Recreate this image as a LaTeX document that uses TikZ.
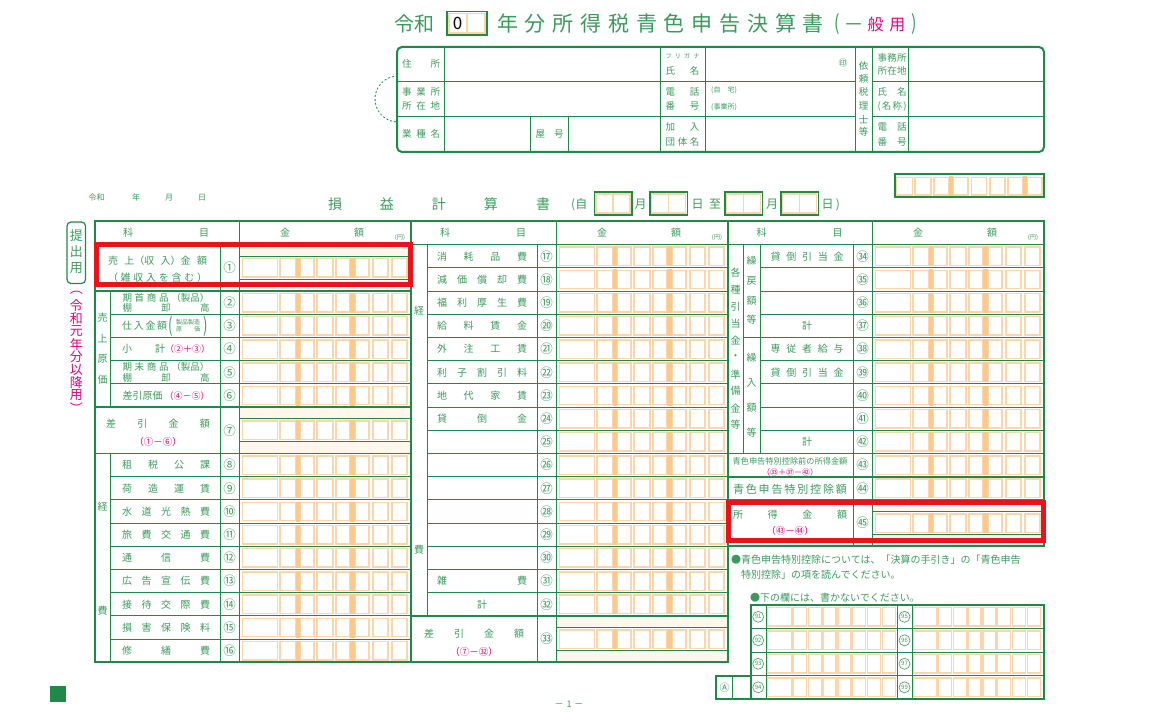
\documentclass[tikz,border=0pt]{standalone}
\usepackage{fontspec}
\setmainfont{Noto Sans CJK JP}
\usetikzlibrary{positioning,calc}

\definecolor{fgreen}{HTML}{1F8A47}
\definecolor{tgreen}{HTML}{3A9A5C}
\definecolor{orng}{HTML}{FCD6AA}
\definecolor{obar}{HTML}{FCC88C}
\definecolor{cream}{HTML}{FFF7EB}
\definecolor{mag}{HTML}{E4007F}
\definecolor{redbox}{HTML}{E8141B}

\def\ttop{221.5}
\def\rowh{23.2}
\newcommand{\spreadto}[2]{\makebox[#1][s]{#2}}

\tikzset{
  frame/.style={draw=fgreen,line width=2pt},
  rule/.style={draw=fgreen,line width=1pt},
  thick rule/.style={draw=fgreen,line width=1.6pt},
  cell/.style={draw=orng,line width=1.5pt},
  lbl/.style={text=tgreen,inner sep=0pt,font=\fontsize{10}{12}\selectfont},
  tiny/.style={lbl,font=\fontsize{6}{7}\selectfont},
  cnum/.style={lbl,font=\fontsize{12.5}{13}\selectfont},
  calc/.style={text=mag,inner sep=0pt,font=\fontsize{9.5}{10}\selectfont},
  hot/.style={draw=redbox,line width=5pt},
  bnum/.style={circle,draw=tgreen,line width=.6pt,minimum size=11pt,inner sep=0pt,text=tgreen,font=\fontsize{6}{6}\selectfont}
}

% amount cells: #1 left of column, #2 top of row
\newcommand{\amt}[2]{%
  \foreach \a/\b in {3.5/38.5,41/57,61/75,78/94,97/111,116/130,134/149,153/168}
    \draw[cell] ({#1+\a},{#2+2.4}) rectangle ({#1+\b},{#2+20.8});
  \fill[obar] ({#1+57},{#2+1.6}) rectangle ({#1+61},{#2+21.6});
  \fill[obar] ({#1+111},{#2+1.6}) rectangle ({#1+116},{#2+21.6});
}
% double height amount row
\newcommand{\amtt}[2]{%
  \fill[cream] ({#1},{#2}) rectangle ({#1+171.5},{#2+2*\rowh});
  \fill[white] ({#1},{#2+11.6}) rectangle ({#1+171.5},{#2+11.6+\rowh});
  \draw[rule] ({#1},{#2+11.6}) -- ({#1+171.5},{#2+11.6});
  \draw[rule] ({#1},{#2+11.6+\rowh}) -- ({#1+171.5},{#2+11.6+\rowh});
  \amt{#1}{#2+11.6}
}

\begin{document}
\begin{tikzpicture}[x=1pt,y=-1pt]
\useasboundingbox (0,0) rectangle (1152,714);

% title
\node[lbl,font=\fontsize{20}{20}\selectfont] (ttla) at (414.5,24) {令和};
\draw[fgreen,line width=1.2pt] (447,11.5) rectangle (487,35);
\draw[cell] (449,13.5) rectangle (467,33);
\draw[cell] (467,13.5) rectangle (485,33);
\node[inner sep=0pt,font=\fontsize{17}{17}\selectfont] (yr) at (457.5,23.5) {0};
\node[lbl,font=\fontsize{21}{21}\selectfont] (ttlb) at (660.5,24) {\spreadto{327pt}{年\hfill 分\hfill 所\hfill 得\hfill 税\hfill 青\hfill 色\hfill 申\hfill 告\hfill 決\hfill 算\hfill 書}};
\node[lbl,font=\fontsize{16}{16}\selectfont] (ttlc) at (875.5,24) {\spreadto{82pt}{\scalebox{1}[1.3]{(}\hfill 一\hfill\textcolor{mag}{般}\hfill\textcolor{mag}{用}\hfill\scalebox{1}[1.3]{)}}};

% head box
\draw[frame,rounded corners=5pt] (397,47) rectangle (1044,152);
\foreach \y in {81.5,116.5} {
  \draw[rule] (397,\y) -- (855,\y);
  \draw[rule] (872,\y) -- (1044,\y);
}
\foreach \x in {444,660,705.5,855,872,908} \draw[rule] (\x,47) -- (\x,152);
\foreach \x in {530.5,568.5} \draw[rule] (\x,116.5) -- (\x,152);
\draw[fgreen,line width=.8pt,dash pattern=on 2pt off 2pt] (398,99) ++(95:23) arc (95:265:23);

\node[lbl,font=\fontsize{9.5}{14}\selectfont] (jusho) at (421,63.5) {\spreadto{38pt}{住\hfill 所}};
\node[lbl,font=\fontsize{9.5}{14}\selectfont,align=center] (jgsho) at (421,99) {\spreadto{38pt}{事\hfill 業\hfill 所}\\\spreadto{38pt}{所\hfill 在\hfill 地}};
\node[lbl,font=\fontsize{9.5}{14}\selectfont] (gyoshu) at (421,134) {\spreadto{38pt}{業\hfill 種\hfill 名}};
\node[lbl,font=\fontsize{9.5}{14}\selectfont] (yago) at (549.5,134) {\spreadto{28pt}{屋\hfill 号}};
\node[tiny] (furi) at (682.5,56) {\spreadto{34pt}{フ\hfill リ\hfill ガ\hfill ナ}};
\node[lbl,font=\fontsize{9.5}{14}\selectfont] (shimei) at (682.5,70.5) {\spreadto{34pt}{氏\hfill 名}};
\node[lbl,font=\fontsize{9}{9}\selectfont] (inkan) at (843,63) {㊞};
\node[lbl,font=\fontsize{9.5}{14}\selectfont,align=center] (denwa) at (682.5,99) {\spreadto{34pt}{電\hfill 話}\\\spreadto{34pt}{番\hfill 号}};
\node[lbl,font=\fontsize{7}{7}\selectfont,anchor=west] (jitaku) at (711,90.5) {(自\hspace{7pt}宅)};
\node[lbl,font=\fontsize{7}{7}\selectfont,anchor=west] (jgshob) at (711,107.5) {(事業所)};
\node[lbl,font=\fontsize{9.5}{15}\selectfont,align=center] (kanyu) at (682.5,134.5) {\spreadto{34pt}{加\hfill 入}\\\spreadto{34pt}{団\hfill 体\hfill 名}};
\foreach \chr/\y in {依/66,頼/79,税/92,理/106,士/119.5,等/132}
  \node[lbl,font=\fontsize{9.5}{10}\selectfont] (zei\chr) at (863.5,\y) {\chr};
\node[lbl,font=\fontsize{9.5}{13}\selectfont,align=center] (jmsho) at (892,64.5) {\spreadto{29pt}{事\hfill 務\hfill 所}\\\spreadto{29pt}{所\hfill 在\hfill 地}};
\node[lbl,font=\fontsize{9.5}{14}\selectfont,align=center] (meisho) at (892,99) {\spreadto{29pt}{氏\hfill 名}\\\spreadto{29pt}{(\hfill 名\hfill 称\hfill )}};
\node[lbl,font=\fontsize{9.5}{15}\selectfont,align=center] (zdenwa) at (892,134.5) {\spreadto{29pt}{電\hfill 話}\\\spreadto{29pt}{番\hfill 号}};

% date line
\node[lbl,font=\fontsize{8}{8}\selectfont] (dreiwa) at (96.7,197.5) {令和};
\node[lbl,font=\fontsize{8}{8}\selectfont] (dnen) at (136,197.5) {年};
\node[lbl,font=\fontsize{8}{8}\selectfont] (dtsuki) at (169,197.5) {月};
\node[lbl,font=\fontsize{8}{8}\selectfont] (dhi) at (202,197.5) {日};
\node[lbl,font=\fontsize{14}{14}\selectfont] (sonek) at (439,204.5) {\spreadto{222pt}{損\hfill 益\hfill 計\hfill 算\hfill 書}};
\node[lbl,font=\fontsize{12}{12}\selectfont,anchor=west] (jiyori) at (571,204.5) {(自};
\foreach \x in {594.5,650,725,781} {
  \draw[cell] ({\x+1.5},194) rectangle ({\x+18.5},213);
  \draw[cell] ({\x+18.5},194) rectangle ({\x+35.5},213);
  \draw[fgreen,line width=1.2pt] (\x,192) rectangle ({\x+37.5},215);
}
\node[lbl,font=\fontsize{12}{12}\selectfont] (pgt) at (640.5,204.5) {月};
\node[lbl,font=\fontsize{12}{12}\selectfont] (pdh) at (697.5,204.5) {日};
\node[lbl,font=\fontsize{12}{12}\selectfont] (pit) at (715,204.5) {至};
\node[lbl,font=\fontsize{12}{12}\selectfont] (pgt2) at (772,204.5) {月};
\node[lbl,font=\fontsize{12}{12}\selectfont] (pdh2) at (827.5,204.5) {日};
\node[lbl,font=\fontsize{12}{12}\selectfont] (pclose) at (838,204.5) {)};

% serial box top right
\foreach \a/\b in {896.7/912.7,915/931,934/949,953/968,971.7/986.7,990/1005,1008/1023,1027/1042}
  \draw[cell] (\a,177.5) rectangle (\b,195);
\fill[obar] (949,176.5) rectangle (953,196);
\fill[obar] (1023,176.5) rectangle (1027,196);
\draw[frame] (895,174.5) rectangle (1044,197.5);

% submit tag
\draw[fgreen,line width=1.2pt,rounded corners=4pt] (67,222) rectangle (85.5,283.5);
\foreach \chr/\y in {提/236,出/252,用/268.5}
  \node[lbl,font=\fontsize{13}{13}\selectfont] (tei\chr) at (76.3,\y) {\chr};
\foreach \chr [count=\i] in {︵,令,和,元,年,分,以,降,用,︶}
  \node[text=mag,inner sep=0pt,font=\fontsize{13}{13}\selectfont] (iko\i) at (76.3,{280.2+\i*12.8}) {\chr};

% amount cells
\foreach \k in {3,4,5,6,7,10,11,12,13,14,15,16,17,18} {\amt{239}{\ttop+\k*\rowh}}
\amtt{239}{\ttop+\rowh}
\amtt{239}{\ttop+8*\rowh}
\foreach \k in {1,...,16} {\amt{556}{\ttop+\k*\rowh}}
\amtt{556}{\ttop+17*\rowh}
\foreach \k in {1,...,11} {\amt{872}{\ttop+\k*\rowh}}
\amtt{872}{\ttop+12*\rowh}

% grid
\draw[rule] (95,{\ttop+\rowh}) -- (1044,{\ttop+\rowh});
\foreach \k in {3,8,10} \draw[thick rule] (95,{\ttop+\k*\rowh}) -- (410.5,{\ttop+\k*\rowh});
\foreach \k in {4,5,6,7,11,12,13,14,15,16,17,18} \draw[rule] (110.5,{\ttop+\k*\rowh}) -- (410.5,{\ttop+\k*\rowh});
\draw[rule] (110.5,{\ttop+3*\rowh}) -- (110.5,{\ttop+8*\rowh});
\draw[rule] (110.5,{\ttop+10*\rowh}) -- (110.5,{\ttop+19*\rowh});
\draw[rule] (220.5,{\ttop+\rowh}) -- (220.5,{\ttop+19*\rowh});
\draw[rule] (239,\ttop) -- (239,{\ttop+19*\rowh});
\foreach \k in {2,...,16} \draw[rule] (427,{\ttop+\k*\rowh}) -- (727.5,{\ttop+\k*\rowh});
\draw[thick rule] (410.5,{\ttop+17*\rowh}) -- (727.5,{\ttop+17*\rowh});
\draw[rule] (427,{\ttop+\rowh}) -- (427,{\ttop+17*\rowh});
\draw[rule] (537,{\ttop+\rowh}) -- (537,{\ttop+19*\rowh});
\draw[rule] (556,\ttop) -- (556,{\ttop+19*\rowh});
\foreach \k in {2,3,4,6,7,8,9} \draw[rule] (760,{\ttop+\k*\rowh}) -- (1044,{\ttop+\k*\rowh});
\draw[thick rule] (743,{\ttop+5*\rowh}) -- (1044,{\ttop+5*\rowh});
\foreach \k in {10,11,12} \draw[thick rule] (727.5,{\ttop+\k*\rowh}) -- (1044,{\ttop+\k*\rowh});
\draw[rule] (743,{\ttop+\rowh}) -- (743,{\ttop+10*\rowh});
\draw[rule] (760,{\ttop+\rowh}) -- (760,{\ttop+10*\rowh});
\draw[rule] (853,{\ttop+\rowh}) -- (853,{\ttop+14*\rowh});
\draw[rule] (872,\ttop) -- (872,{\ttop+14*\rowh});
\draw[frame] (95,\ttop) rectangle (727.5,{\ttop+19*\rowh});
\draw[frame] (727.5,\ttop) rectangle (1044,{\ttop+14*\rowh});
\draw[frame] (410.5,\ttop) -- (410.5,{\ttop+19*\rowh});

% headers
\foreach \x/\y in {166/239,483/556,799.5/872} {
  \node[lbl] (hk\x) at (\x,233) {\spreadto{86pt}{科\hfill 目}};
  \node[lbl] (hg\x) at ({\y+83},233) {\spreadto{84pt}{金\hfill 額}};
  \node[lbl,font=\fontsize{6}{6}\selectfont] (hy\x) at ({\y+161},237.5) {(円)};
}

% circled numbers
\node[cnum] (c1) at (229.7,{\ttop+2*\rowh}) {①};
\foreach \n [count=\i from 3] in {②,③,④,⑤,⑥}
  \node[cnum] (c\i) at (229.7,{\ttop+(\i+.5)*\rowh}) {\n};
\node[cnum] (c7) at (229.7,{\ttop+9*\rowh}) {⑦};
\foreach \n [count=\i from 10] in {⑧,⑨,⑩,⑪,⑫,⑬,⑭,⑮,⑯}
  \node[cnum] (cc\i) at (229.7,{\ttop+(\i+.5)*\rowh}) {\n};
\foreach \n [count=\i from 1] in {⑰,⑱,⑲,⑳,㉑,㉒,㉓,㉔,㉕,㉖,㉗,㉘,㉙,㉚,㉛,㉜}
  \node[cnum] (cm\i) at (546.5,{\ttop+(\i+.5)*\rowh}) {\n};
\node[cnum] (c33) at (546.5,{\ttop+18*\rowh}) {㉝};
\foreach \n [count=\i from 1] in {㉞,㉟,㊱,㊲,㊳,㊴,㊵,㊶,㊷,㊸,㊹}
  \node[cnum] (cr\i) at (862.5,{\ttop+(\i+.5)*\rowh}) {\n};
\node[cnum] (c45) at (862.5,{\ttop+13*\rowh}) {㊺};

% left items
\node[lbl,font=\fontsize{10}{17}\selectfont,align=center] (uriage) at (157.5,269.4) {\spreadto{99pt}{売\hfill 上（収\hfill 入）金\hfill 額}\\\spreadto{99pt}{（\hfill 雑\hfill 収\hfill 入\hfill を\hfill 含\hfill む\hfill ）}};
\foreach \chr [count=\i] in {売,上,原,価}
  \node[lbl] (gen\i) at (102.7,{297.3+\i*20.7}) {\chr};
\node[lbl,font=\fontsize{9.5}{10.5}\selectfont,align=center] (kisyu) at (166,{\ttop+3.5*\rowh}) {\spreadto{87pt}{期\hfill 首\hfill 商\hfill 品\hfill （製品）}\\\spreadto{87pt}{棚\hfill 卸\hfill 高}};
\node[lbl,anchor=west] (shiire) at (122,{\ttop+4.5*\rowh}) {\spreadto{45pt}{仕\hfill 入\hfill 金\hfill 額}};
\node[lbl,font=\fontsize{13}{13}\selectfont] (shiirel) at (170.5,{\ttop+4.5*\rowh}) {\scalebox{1}[1.55]{(}};
\node[lbl,font=\fontsize{6}{7}\selectfont,align=center] (shiirem) at (188,{\ttop+4.5*\rowh}) {製品製造\\\spreadto{24pt}{原\hfill 価}};
\node[lbl,font=\fontsize{13}{13}\selectfont] (shiirer) at (205.5,{\ttop+4.5*\rowh}) {\scalebox{1}[1.55]{)}};
\node[lbl] (shokei) at (166,{\ttop+5.5*\rowh}) {\spreadto{88pt}{小\hspace{23pt}計\hfill{\color{mag}\fontsize{9}{10}\selectfont （②＋③）}}};
\node[lbl,font=\fontsize{9.5}{10.5}\selectfont,align=center] (kimatsu) at (166,{\ttop+6.5*\rowh}) {\spreadto{87pt}{期\hfill 末\hfill 商\hfill 品\hfill （製品）}\\\spreadto{87pt}{棚\hfill 卸\hfill 高}};
\node[lbl] (genka) at (166,{\ttop+7.5*\rowh}) {\spreadto{87pt}{差引原価\hfill{\color{mag}\fontsize{9}{10}\selectfont （④－⑤）}}};
\node[lbl] (sahiki) at (158,424) {\spreadto{104pt}{差\hfill 引\hfill 金\hfill 額}};
\node[calc] (sahikif) at (158,442) {（①－⑥）};
\node[lbl] (kei1) at (102.7,506.7) {経};
\node[lbl] (hi1) at (102.7,610.7) {費};
\foreach \k/\txt in {10/{租\hfill 税\hfill 公\hfill 課},11/{荷\hfill 造\hfill 運\hfill 賃},12/{水\hfill 道\hfill 光\hfill 熱\hfill 費},13/{旅\hfill 費\hfill 交\hfill 通\hfill 費},14/{通\hfill 信\hfill 費},15/{広\hfill 告\hfill 宣\hfill 伝\hfill 費},16/{接\hfill 待\hfill 交\hfill 際\hfill 費},17/{損\hfill 害\hfill 保\hfill 険\hfill 料},18/{修\hfill 繕\hfill 費}}
  \node[lbl] (la\k) at (166,{\ttop+(\k+.5)*\rowh}) {\spreadto{88pt}{\txt}};

% middle items
\node[lbl] (kei2) at (419,311) {経};
\node[lbl] (hi2) at (419,550) {費};
\foreach \k/\txt in {1/{消\hfill 耗\hfill 品\hfill 費},2/{減\hfill 価\hfill 償\hfill 却\hfill 費},3/{福\hfill 利\hfill 厚\hfill 生\hfill 費},4/{給\hfill 料\hfill 賃\hfill 金},5/{外\hfill 注\hfill 工\hfill 賃},6/{利\hfill 子\hfill 割\hfill 引\hfill 料},7/{地\hfill 代\hfill 家\hfill 賃},8/{貸\hfill 倒\hfill 金},15/{雑\hfill 費}}
  \node[lbl] (lm\k) at (482,{\ttop+(\k+.5)*\rowh}) {\spreadto{90pt}{\txt}};
\node[lbl] (kei) at (482,{\ttop+16.5*\rowh}) {計};
\node[lbl] (sahikib) at (474,634) {\spreadto{100pt}{差\hfill 引\hfill 金\hfill 額}};
\node[calc] (sahikibf) at (474,651.5) {（⑦－㉜）};

% right items
\foreach \chr [count=\i] in {各,種,引,当,金,・,準,備,金,等}
  \node[lbl] (hik\i) at (735.5,{256+\i*16.9}) {\chr};
\foreach \chr [count=\i] in {繰,戻,額,等}
  \node[lbl] (kmd\i) at (751.7,{241.3+\i*19.7}) {\chr};
\foreach \chr [count=\i] in {繰,入,額,等}
  \node[lbl] (kir\i) at (751.7,{333+\i*25}) {\chr};
\node[lbl] (kashi1) at (807,{\ttop+1.5*\rowh}) {\spreadto{73pt}{貸\hfill 倒\hfill 引\hfill 当\hfill 金}};
\node[lbl] (kei3) at (807,{\ttop+4.5*\rowh}) {計};
\node[lbl] (senju) at (807,{\ttop+5.5*\rowh}) {\spreadto{73pt}{専\hfill 従\hfill 者\hfill 給\hfill 与}};
\node[lbl] (kashi2) at (807,{\ttop+6.5*\rowh}) {\spreadto{73pt}{貸\hfill 倒\hfill 引\hfill 当\hfill 金}};
\node[lbl] (kei4) at (807,{\ttop+9.5*\rowh}) {計};
\node[lbl,font=\fontsize{8.2}{9}\selectfont] (maekin) at (790,461.5) {青色申告特別控除前の所得金額};
\node[calc,font=\fontsize{8}{8}\selectfont] (maekinf) at (790,472) {（㉝＋㊲－㊷）};
\node[lbl,font=\fontsize{11}{12}\selectfont] (kojo) at (790,489) {\spreadto{114pt}{青\hfill 色\hfill 申\hfill 告\hfill 特\hfill 別\hfill 控\hfill 除\hfill 額}};
\node[lbl] (shotoku) at (790,515) {\spreadto{114pt}{所\hfill 得\hfill 金\hfill 額}};
\node[calc] (shotokuf) at (790,530.5) {（㊸－㊹）};

% notes
\node[lbl,anchor=west] (nt1) at (731,560) {●青色申告特別控除については、「決算の手引き」の「青色申告};
\node[lbl,anchor=west] (nt2) at (741,574.5) {特別控除」の項を読んでください。};
\node[lbl,anchor=west] (nt3) at (750,598) {●下の欄には、書かないでください。};

% office box
\foreach \y in {605,628.5,652,675.5} {
  \draw[cell] (767.5,{\y+2.5}) rectangle (792,{\y+21});
  \foreach \j in {0,...,6} \draw[cell] ({793.5+\j*14.8},{\y+2.5}) rectangle ({806.5+\j*14.8},{\y+21});
  \draw[cell] (913.5,{\y+2.5}) rectangle (937,{\y+21});
  \foreach \j in {0,...,6} \draw[cell] ({938.5+\j*14.8},{\y+2.5}) rectangle ({951.5+\j*14.8},{\y+21});
}
\draw[frame] (750.5,605) rectangle (1044,699);
\foreach \y in {628.5,652,675.5} \draw[rule] (750.5,\y) -- (1044,\y);
\foreach \x in {766,897,912} \draw[rule] (\x,605) -- (\x,699);
\draw[frame] (716,675.5) rectangle (750.5,699);
\draw[rule] (732.5,675.5) -- (732.5,699);
\node[lbl,font=\fontsize{10}{10}\selectfont] (ca) at (724.5,687.5) {Ⓐ};
\foreach \n [count=\i from 0] in {91,92,93,94}
  \node[bnum] (bl\n) at (758.2,{616.8+\i*23.5}) {\n};
\foreach \n [count=\i from 0] in {95,96,97,99}
  \node[bnum] (br\n) at (904.5,{616.8+\i*23.5}) {\n};

% footer
\fill[fgreen] (50,686) rectangle (66,702);
\node[lbl,font=\fontsize{9}{9}\selectfont] (page) at (569,704.5) {－\hspace{3pt}1\hspace{3pt}－};

% highlight
\draw[hot] (96.5,244.3) rectangle (410.2,284.2);
\draw[hot] (728.5,502.5) rectangle (1043.5,540.5);
\end{tikzpicture}
\end{document}
